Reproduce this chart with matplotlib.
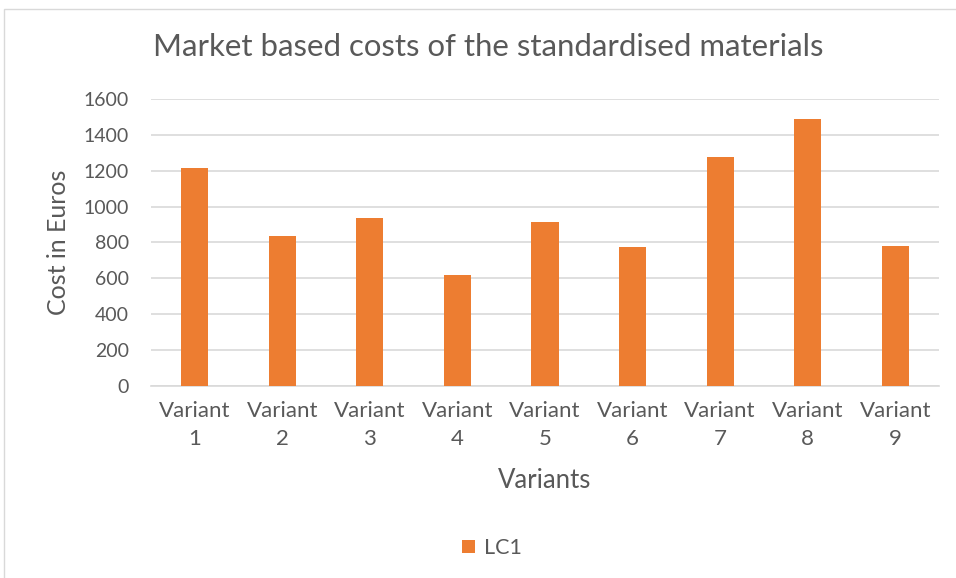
import numpy as np
import matplotlib.pyplot as plt
from matplotlib.patches import Rectangle

# cost per variant (EUR)
variants = ["Variant\n1", "Variant\n2", "Variant\n3", "Variant\n4", "Variant\n5",
            "Variant\n6", "Variant\n7", "Variant\n8", "Variant\n9"]
lc1 = [1213, 837, 937, 618, 913, 774, 1275, 1487, 780]
yticks = [0, 200, 400, 600, 800, 1000, 1200, 1400, 1600]

plt.rcParams['font.family'] = ['Lato', 'DejaVu Sans']
txt = '#595959'
orange = '#ED7D31'

fig = plt.figure(figsize=(9.56, 5.78), dpi=100)
fig.patches.append(Rectangle((4 / 956, -0.01), 1.0, 1 - 9 / 578 + 0.01,
                             transform=fig.transFigure, fill=False,
                             edgecolor='#D9D9D9', linewidth=1))

ax = fig.add_axes([151 / 956, 1 - 385.7 / 578, 788 / 956, 286.7 / 578])
x = np.arange(len(variants))
ax.bar(x, lc1, width=0.31, color=orange, label='LC1', zorder=3)

ax.set_xlim(-0.5, len(variants) - 0.5)
ax.set_ylim(0, 1600)
ax.set_yticks(yticks)
ax.set_yticklabels([str(v) for v in yticks], fontsize=14, color=txt)
ax.set_xticks(x)
ax.set_xticklabels(variants, fontsize=16, color=txt, linespacing=1.5)
ax.tick_params(length=0)
ax.tick_params(axis='y', pad=16)
ax.tick_params(axis='x', pad=11)
ax.grid(axis='y', color='#D9D9D9', linewidth=1.2, zorder=0)
for s in ['top', 'right', 'left']:
    ax.spines[s].set_visible(False)
ax.spines['bottom'].set_color('#D9D9D9')
ax.spines['bottom'].set_linewidth(1.2)

ax.set_ylabel('Cost in Euros', fontsize=18, color=txt, labelpad=10)
ax.set_xlabel('Variants', fontsize=18.5, color=txt, labelpad=14)
fig.text(488 / 956, 1 - 47 / 578, 'Market based costs of the standardised materials',
         fontsize=22.4, color=txt, ha='center', va='center')

fig.legend(loc='center', bbox_to_anchor=(492 / 956, 1 - 548 / 578), frameon=False,
           fontsize=15.5, labelcolor=txt, handlelength=0.6, handleheight=0.6,
           handletextpad=0.4)

fig.savefig('out.png', dpi=100)
